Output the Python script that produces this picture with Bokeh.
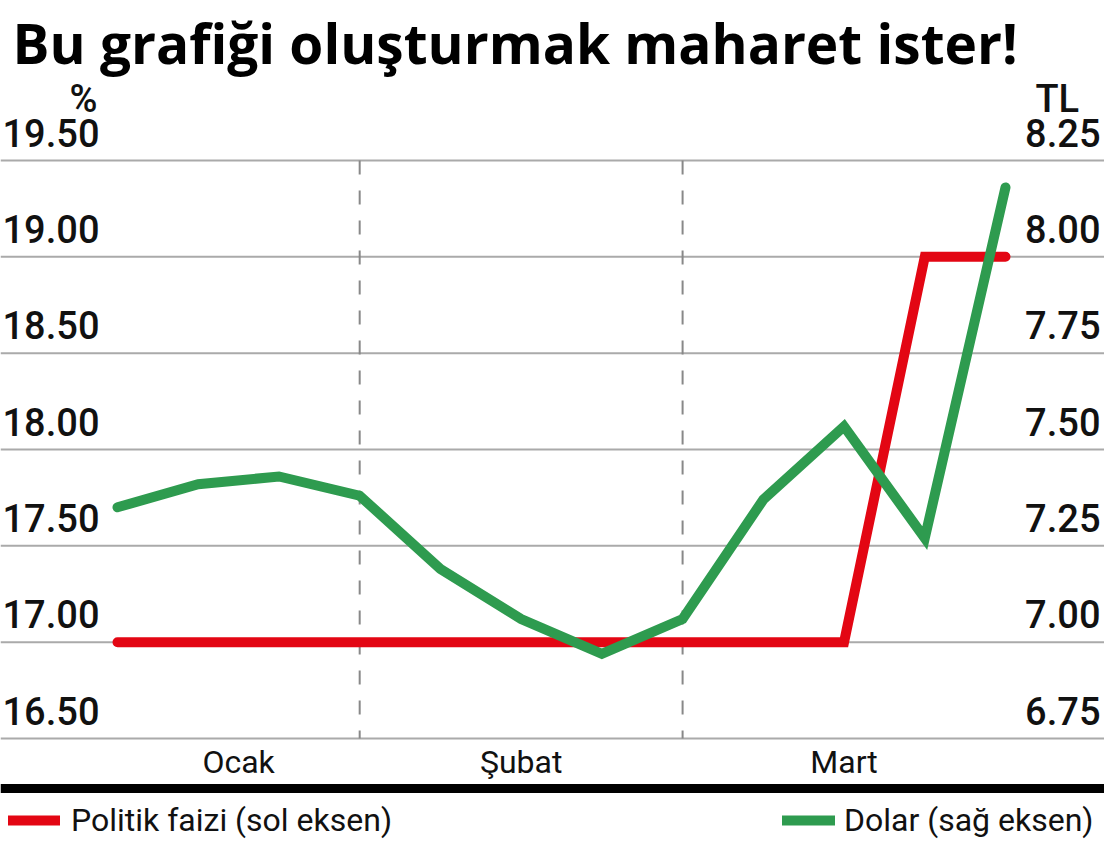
from bokeh.plotting import figure
from bokeh.models import Range1d, Span, Label, Legend, LegendItem
from bokeh.embed import file_html
from bokeh.resources import INLINE

# ---------------- data ----------------
week_index = [0, 1, 2, 3, 4, 5, 6, 7, 8, 9, 10, 11]
politik_faizi = [17.00, 17.00, 17.00, 17.00, 17.00, 17.00, 17.00, 17.00, 17.00, 17.00, 19.00, 19.00]
dolar = [7.35, 7.41, 7.43, 7.38, 7.19, 7.06, 6.97, 7.06, 7.37, 7.56, 7.27, 8.18]

months = ["Ocak", "Şubat", "Mart"]
month_bounds = [0, 3, 7, 11]

left_ticks = [16.50, 17.00, 17.50, 18.00, 18.50, 19.00, 19.50]
right_ticks = [6.75, 7.00, 7.25, 7.50, 7.75, 8.00, 8.25]

title_text = "Bu grafiği oluşturmak maharet ister!"
left_unit = "%"
right_unit = "TL"
legend_red = "Politik faizi (sol eksen)"
legend_green = "Dolar (sağ eksen)"

# ---------------- layout (pixels) ----------------
W, H = 1104, 846
GRID_TOP, GRID_BOT = 160, 738          # y of top / bottom gridline
X_FIRST, X_LAST = 117, 1005            # x of first / last week

ppu_l = (GRID_BOT - GRID_TOP) / (left_ticks[-1] - left_ticks[0])
ppu_r = (GRID_BOT - GRID_TOP) / (right_ticks[-1] - right_ticks[0])
ppx = (X_LAST - X_FIRST) / (week_index[-1] - week_index[0])

y_start = left_ticks[0] - (H - GRID_BOT) / ppu_l
y_end = left_ticks[-1] + GRID_TOP / ppu_l
r_start = right_ticks[0] - (H - GRID_BOT) / ppu_r
r_end = right_ticks[-1] + GRID_TOP / ppu_r
x_start = week_index[0] - X_FIRST / ppx
x_end = week_index[-1] + (W - X_LAST) / ppx


def y_at(py):
    return y_end - py / ppu_l


RED = "#e30613"
GREEN = "#2e9b4f"
NUM_FONT = "'Roboto Medium', Roboto, sans-serif"
TXT_FONT = "Roboto"
TITLE_FONT = "'Open Sans'"

p = figure(width=W, height=H, output_backend="svg", toolbar_location=None,
           x_range=Range1d(x_start, x_end), y_range=Range1d(y_start, y_end),
           x_axis_location=None, y_axis_location=None, title=None,
           min_border=0, min_border_left=0, min_border_right=0,
           min_border_top=0, min_border_bottom=0)
p.extra_y_ranges = {"tl": Range1d(r_start, r_end)}
p.outline_line_color = None
p.background_fill_color = "white"
p.border_fill_color = "white"
p.xgrid.visible = False
p.ygrid.visible = False

# gridlines
for v in left_ticks:
    p.add_layout(Span(location=v, dimension="width", line_color="#aaaaaa",
                      line_width=2, level="underlay"))

# month separators
sep = month_bounds[1:-1]
p.segment(x0=sep, x1=sep, y0=[left_ticks[-1]] * len(sep), y1=[left_ticks[0]] * len(sep),
          line_color="#888888", line_width=2, line_dash="14 16")

# lines
r_red = p.line(week_index, politik_faizi, line_color=RED, line_width=10,
               line_cap="round", line_join="miter")
r_green = p.line(week_index, dolar, line_color=GREEN, line_width=10,
                 line_cap="round", line_join="miter", y_range_name="tl")

# tick labels (centre anchored: offset = gap above gridline + half text box)
for v in left_ticks:
    p.add_layout(Label(x=2, x_units="screen", y=v, y_offset=28, text=f"{v:.2f}",
                       text_font=NUM_FONT, text_font_size="38px", text_color="#111111",
                       text_baseline="middle", text_align="left"))
for v in right_ticks:
    p.add_layout(Label(x=1100, x_units="screen", y=v, y_offset=28, text=f"{v:.2f}",
                       y_range_name="tl",
                       text_font=NUM_FONT, text_font_size="38px", text_color="#111111",
                       text_baseline="middle", text_align="right"))
p.add_layout(Label(x=97, x_units="screen", y=left_ticks[-1], y_offset=62, text=left_unit,
                   text_font=NUM_FONT, text_font_size="38px", text_color="#111111",
                   text_baseline="middle", text_align="right"))
p.add_layout(Label(x=1035, x_units="screen", y=left_ticks[-1], y_offset=62, text=right_unit,
                   text_font=NUM_FONT, text_font_size="38px", text_color="#111111",
                   text_baseline="middle", text_align="left"))

# title
p.add_layout(Label(x=12, x_units="screen", y=y_at(42), text=title_text,
                   text_font=TITLE_FONT, text_font_style="bold", text_font_size="55px",
                   text_color="#000000", text_baseline="middle", text_align="left"))

# month labels
for i, m in enumerate(months):
    cx = (month_bounds[i] + month_bounds[i + 1]) / 2
    p.add_layout(Label(x=cx, y=y_at(761), text=m, text_font=TXT_FONT,
                       text_font_size="32px", text_color="#111111",
                       text_baseline="middle", text_align="center"))

# black bar
p.add_layout(Span(location=y_at(788), dimension="width", line_color="#000000", line_width=9))

# legends
leg1 = Legend(items=[LegendItem(label=legend_red, renderers=[r_red])],
              location=(8, 7), margin=0, padding=0, glyph_width=52,
              glyph_height=12, label_standoff=11, label_text_font=TXT_FONT,
              label_text_font_size="32px", label_text_color="#111111",
              background_fill_alpha=0, border_line_color=None)
leg2 = Legend(items=[LegendItem(label=legend_green, renderers=[r_green])],
              location=(782, 7), margin=0, padding=0, glyph_width=53,
              glyph_height=12, label_standoff=9, label_text_font=TXT_FONT,
              label_text_font_size="32px", label_text_color="#111111",
              background_fill_alpha=0, border_line_color=None)
p.add_layout(leg1)
p.add_layout(leg2)

open("out.html", "w").write(file_html(p, INLINE))
